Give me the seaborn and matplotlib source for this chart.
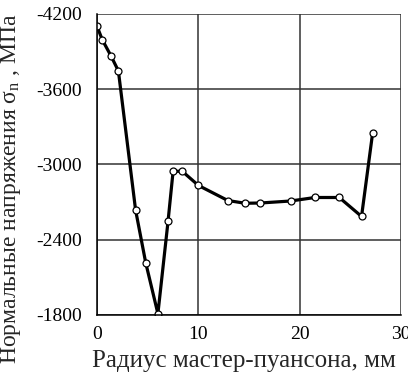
import pandas as pd
import matplotlib
matplotlib.use("Agg")
import matplotlib.pyplot as plt
import seaborn as sns

radius = [0.0, 0.5, 1.4, 2.1, 3.8, 4.8, 6.0, 7.0, 7.5, 8.4, 10.0, 12.9,
          14.6, 16.1, 19.1, 21.5, 23.9, 26.1, 27.2]
stress = [-4100, -3995, -3860, -3745, -2635, -2215, -1810, -2545, -2945, -2945,
          -2832, -2712, -2690, -2692, -2708, -2736, -2736, -2585, -3254]
x_ticks = [0, 10, 20, 30]
y_ticks = [-4200, -3600, -3000, -2400, -1800]

df = pd.DataFrame({"r": radius, "s": stress})

sns.set_style("white")
plt.rcParams["font.family"] = ["Liberation Serif", "DejaVu Serif"]
plt.rcParams["mathtext.fontset"] = "custom"
plt.rcParams["mathtext.rm"] = "Liberation Serif"
plt.rcParams["mathtext.it"] = "Liberation Serif"
plt.rcParams["axes.unicode_minus"] = False

fig = plt.figure(figsize=(4.08, 3.74), dpi=100)
ax = fig.add_axes([0.238, 0.158, 0.745, 0.805])

sns.lineplot(data=df, x="r", y="s", ax=ax, color="black", linewidth=2.3,
             marker="o", markersize=5, markerfacecolor="white",
             markeredgecolor="black", markeredgewidth=0.9, sort=False)

ax.set_xlim(0, 30)
ax.set_ylim(-1800, -4200)
ax.set_xticks(x_ticks)
ax.set_yticks(y_ticks)
ax.grid(True, color="#333333", linewidth=1.1)
for side in ["top", "right"]:
    ax.spines[side].set_visible(False)
for side in ["left", "bottom"]:
    ax.spines[side].set_color("black")
    ax.spines[side].set_linewidth(1.1)
ax.tick_params(axis="both", direction="out", length=5, width=1.1,
               labelsize=14, colors="black", pad=3)
ax.tick_params(axis="y", pad=6)

ax.set_xlabel("Радиус мастер-пуансона, мм", fontsize=18)
ax.set_ylabel("Нормальные напряжения σ$_{\\rm n}$ , МПа", fontsize=17)
ax.xaxis.set_label_coords(0.484, -0.115)
ax.yaxis.set_label_coords(-0.245, 0.42)

fig.savefig("out.png", dpi=100)
